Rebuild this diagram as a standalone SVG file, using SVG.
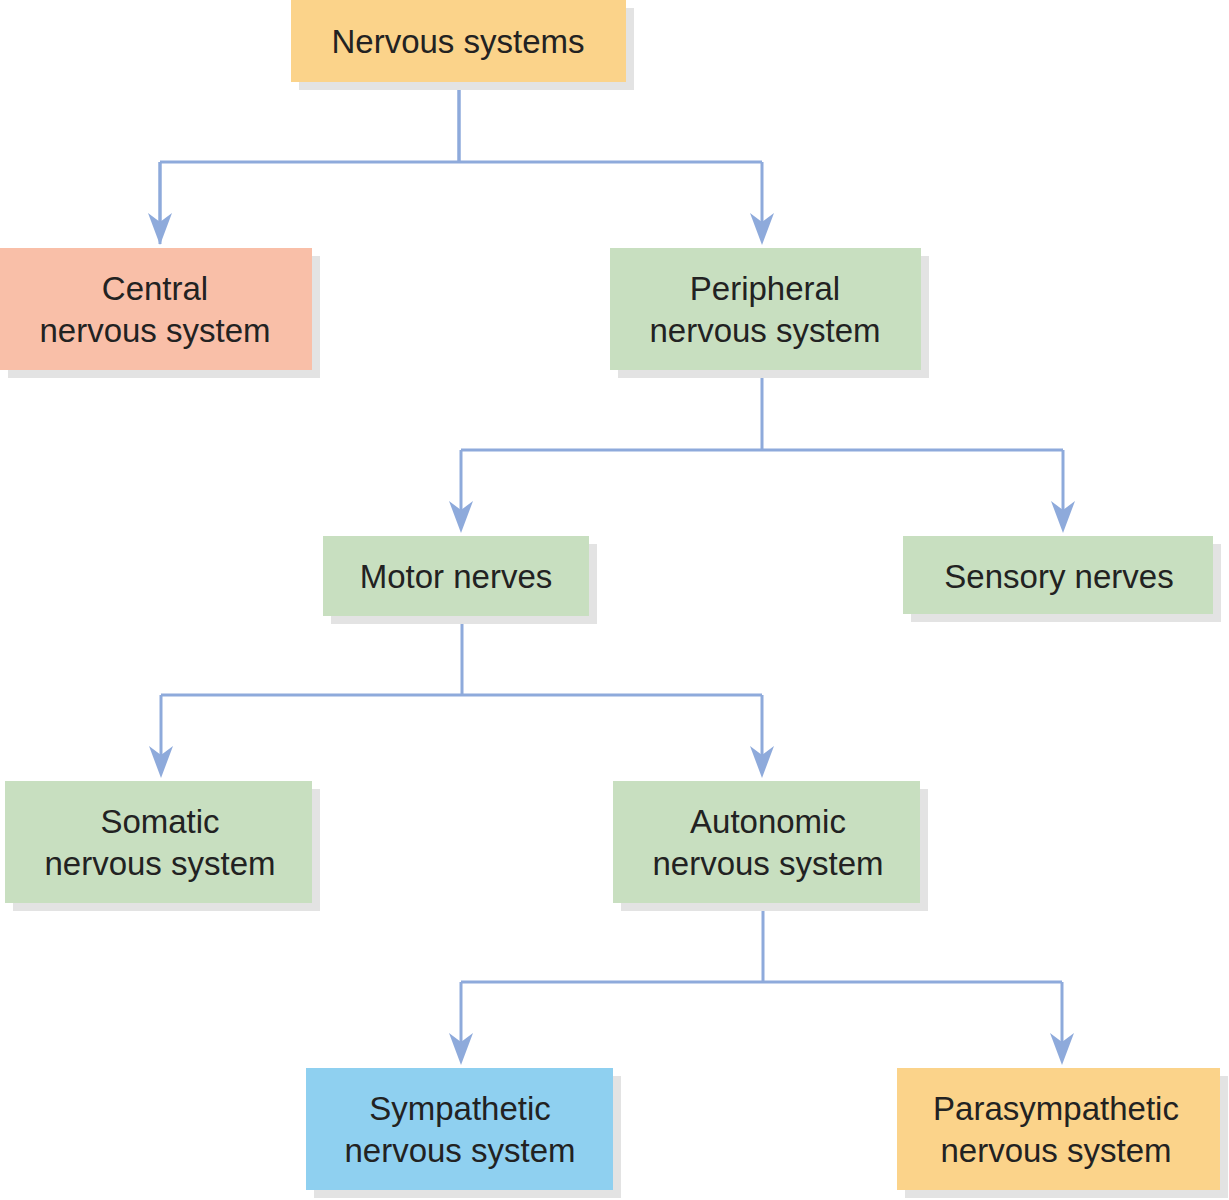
<svg xmlns="http://www.w3.org/2000/svg" width="1229" height="1200" viewBox="0 0 1229 1200">
<style>
.sh{fill:#e3e3e3}
.t{font-family:"Liberation Sans",Arial,sans-serif;font-size:33px;fill:#222;text-anchor:middle}
.c{fill:none;stroke:#8eaadb;stroke-width:3}
</style>
<defs>
<marker id="a" viewBox="0 0 20 20" refX="10" refY="18" markerWidth="20" markerHeight="20" markerUnits="userSpaceOnUse" orient="auto-start-reverse">
<path d="M0,0 L10,20 L20,0 L10,8 Z" fill="#8eaadb" transform="rotate(-90 10 10)"/>
</marker>
</defs>
<rect width="1229" height="1200" fill="#fff"/>
<g id="connectors">
<path class="c" d="M459,82 V162 M160,162 H762"/>
<path class="c" d="M160,162 V244" marker-end="url(#m)"/>
<path class="c" d="M459,82 V162 M762,370 V450 M461,450 H1063 M462,616 V695 M161,695 H762 M763,903 V982 M461,982 H1062"/>
<g fill="#8eaadb">
<path d="M160,162 V230" class="c"/><path d="M148,213 L160,245 L172,213 L160,222 Z"/>
<path d="M762,162 V230" class="c"/><path d="M750,213 L762,245 L774,213 L762,222 Z"/>
<path d="M461,450 V518" class="c"/><path d="M449,501 L461,533 L473,501 L461,510 Z"/>
<path d="M1063,450 V518" class="c"/><path d="M1051,501 L1063,533 L1075,501 L1063,510 Z"/>
<path d="M161,695 V763" class="c"/><path d="M149,746 L161,778 L173,746 L161,755 Z"/>
<path d="M762,695 V763" class="c"/><path d="M750,746 L762,778 L774,746 L762,755 Z"/>
<path d="M461,982 V1050" class="c"/><path d="M449,1033 L461,1065 L473,1033 L461,1042 Z"/>
<path d="M1062,982 V1050" class="c"/><path d="M1050,1033 L1062,1065 L1074,1033 L1062,1042 Z"/>
</g>
</g>
<g id="n1"><rect class="sh" x="299" y="8" width="335" height="82"/><rect x="291" y="0" width="335" height="82" fill="#fbd38a"/><text class="t" x="458" y="53">Nervous systems</text></g>
<g id="n2"><rect class="sh" x="8" y="256" width="312" height="122"/><rect x="0" y="248" width="312" height="122" fill="#f9bfa8"/><text class="t" x="155" y="300">Central</text><text class="t" x="155" y="342">nervous system</text></g>
<g id="n3"><rect class="sh" x="618" y="256" width="311" height="122"/><rect x="610" y="248" width="311" height="122" fill="#c8dfc0"/><text class="t" x="765" y="300">Peripheral</text><text class="t" x="765" y="342">nervous system</text></g>
<g id="n4"><rect class="sh" x="331" y="544" width="266" height="80"/><rect x="323" y="536" width="266" height="80" fill="#c8dfc0"/><text class="t" x="456" y="588">Motor nerves</text></g>
<g id="n5"><rect class="sh" x="911" y="544" width="310" height="78"/><rect x="903" y="536" width="310" height="78" fill="#c8dfc0"/><text class="t" x="1059" y="588">Sensory nerves</text></g>
<g id="n6"><rect class="sh" x="13" y="789" width="307" height="122"/><rect x="5" y="781" width="307" height="122" fill="#c8dfc0"/><text class="t" x="160" y="833">Somatic</text><text class="t" x="160" y="875">nervous system</text></g>
<g id="n7"><rect class="sh" x="621" y="789" width="307" height="122"/><rect x="613" y="781" width="307" height="122" fill="#c8dfc0"/><text class="t" x="768" y="833">Autonomic</text><text class="t" x="768" y="875">nervous system</text></g>
<g id="n8"><rect class="sh" x="314" y="1076" width="307" height="122"/><rect x="306" y="1068" width="307" height="122" fill="#8fd0f0"/><text class="t" x="460" y="1120">Sympathetic</text><text class="t" x="460" y="1162">nervous system</text></g>
<g id="n9"><rect class="sh" x="905" y="1076" width="323" height="122"/><rect x="897" y="1068" width="323" height="122" fill="#fbd38a"/><text class="t" x="1056" y="1120">Parasympathetic</text><text class="t" x="1056" y="1162">nervous system</text></g>
</svg>
